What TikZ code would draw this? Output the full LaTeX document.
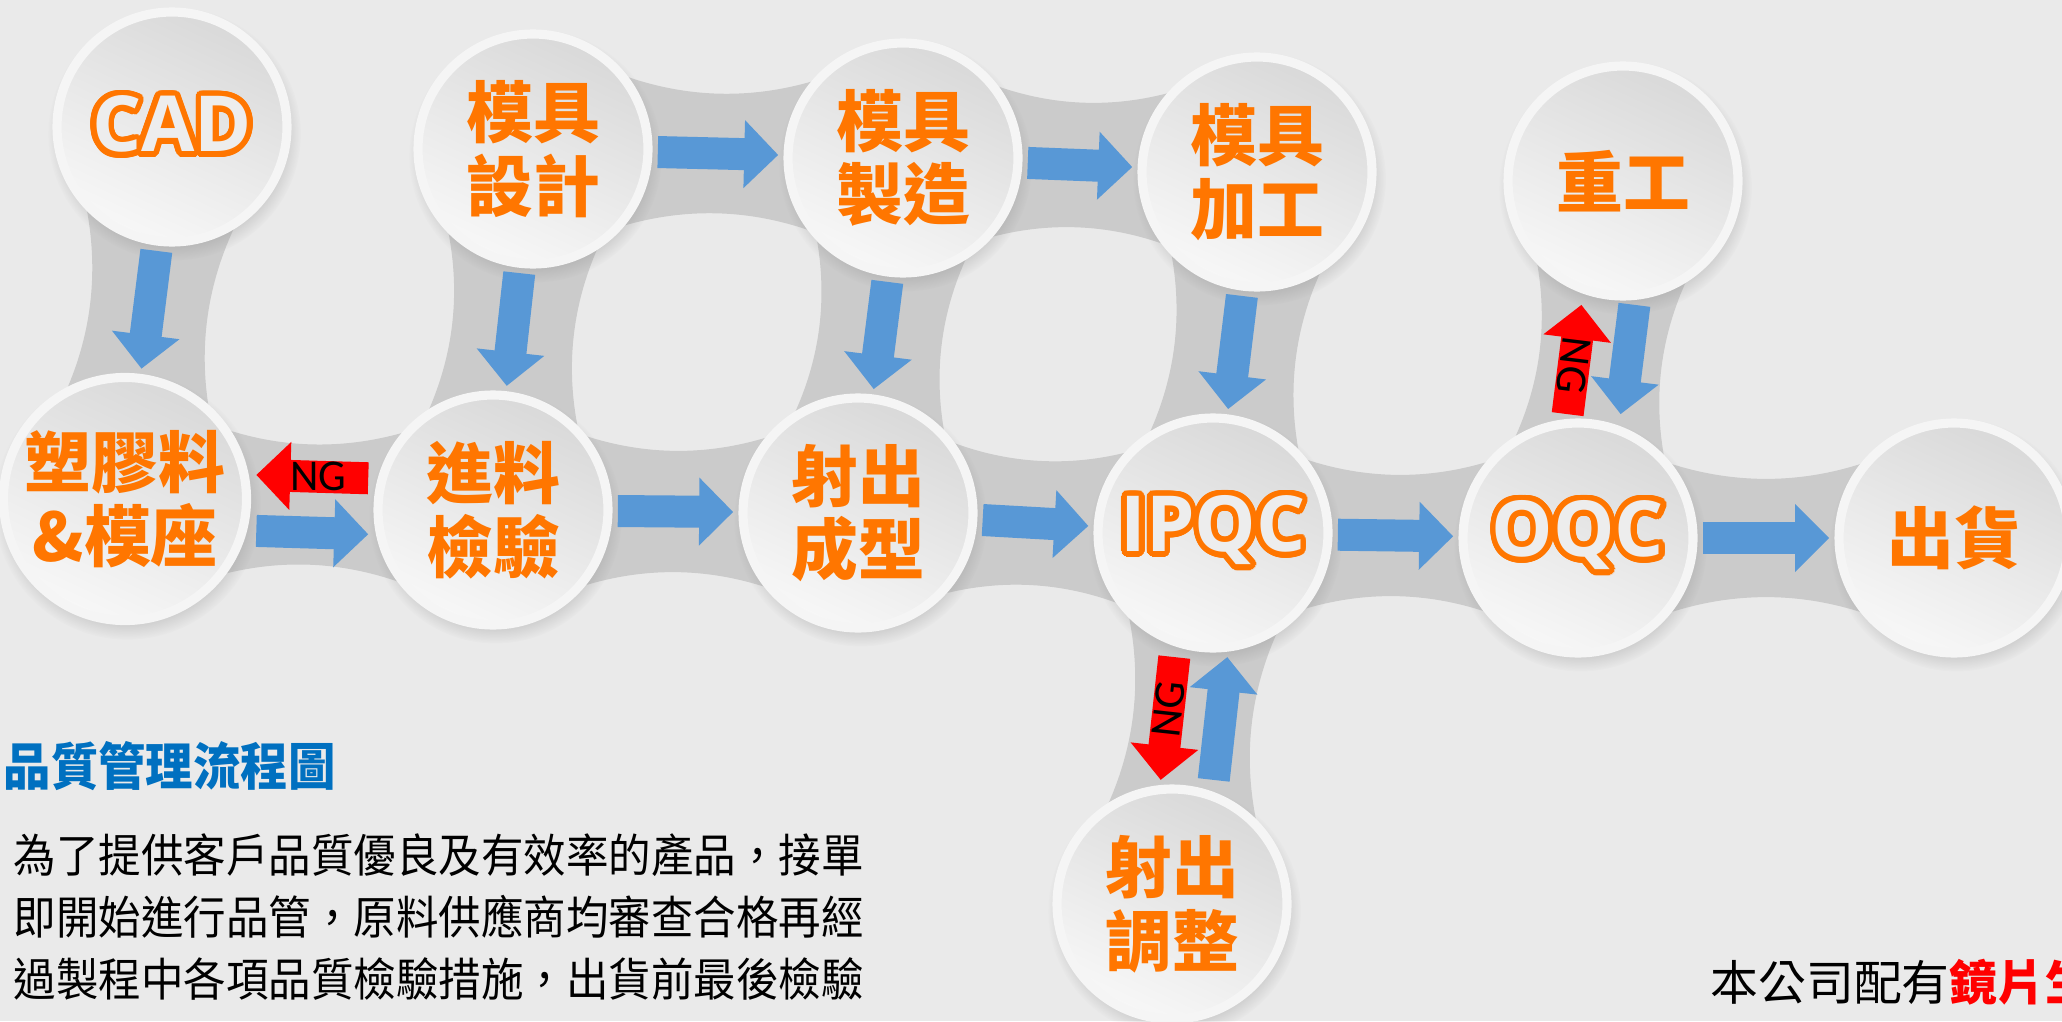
\documentclass[tikz,border=0pt]{standalone}
\usepackage{fontspec}
\usepackage{contour}
\usetikzlibrary{arrows.meta, calc, shadows, backgrounds}

\newfontfamily\cjkfont{Noto Sans CJK TC}
\newfontfamily\cjknarrow{Noto Sans CJK TC}[FakeStretch=0.93]
\newfontfamily\latinfont{Open Sans}
\newfontfamily\ngfont{Carlito}

\definecolor{PaperGray}{RGB}{234,234,234}
\definecolor{ChannelGray}{RGB}{203,203,203}
\definecolor{FlowBlue}{RGB}{88,152,214}
\definecolor{LabelOrange}{RGB}{255,118,0}
\definecolor{TitleBlue}{RGB}{0,112,192}
\definecolor{NGRed}{RGB}{255,0,0}

\contournumber{32}
\contourlength{1.6pt}
\newcommand{\hollow}[1]{{\latinfont\fontsize{22}{22}\selectfont\contour{LabelOrange}{\textcolor{white!93!black}{#1}}}}
\newcommand{\rimradius}{1.19cm}

\begin{document}
\begin{tikzpicture}[
        stage/.style={circle, minimum size=2.3cm, inner sep=0pt, draw=white!96!black, line width=2.6pt,
            top color=black!15, bottom color=white!97!black, shading angle=-25,
            circular drop shadow={shadow xshift=0.6pt, shadow yshift=-1.8pt, opacity=0.3},
            align=center, text=LabelOrange, font=\cjkfont\bfseries\fontsize{19}{21}\selectfont},
        channel/.style={fill=ChannelGray},
        flow/.style={draw=FlowBlue, line width=3.2mm, -{Triangle[width=6.6mm,length=3.4mm]}, shorten >=1.5pt, shorten <=1.5pt},
        ngflow/.style={flow, draw=NGRed},
        ngtext/.style={font=\ngfont\fontsize{12.5}{12.5}\selectfont, text=black, inner sep=0pt},
        title/.style={font=\cjknarrow\bfseries\fontsize{14.5}{14.5}\selectfont, text=TitleBlue, inner sep=0pt},
        para/.style={font=\cjknarrow\fontsize{13}{17.6}\selectfont, align=left, inner sep=0pt},
        note/.style={font=\cjkfont\fontsize{13.6}{13.6}\selectfont, inner sep=0pt}
    ]
    \useasboundingbox (0,0) rectangle (20.62,10.21);

    % stations
    \node[stage] (cad) at (1.72,8.94) {\hollow{CAD}};
    \node[stage] (design) at (5.33,8.72) {模具\\設計};
    \node[stage] (make) at (9.03,8.63) {模具\\製造};
    \node[stage] (machining) at (12.57,8.49) {模具\\加工};
    \node[stage] (rework) at (16.23,8.40) {重工};
    \node[stage] (material) at (1.25,5.22) {塑膠料\\\&模座};
    \node[stage] (incoming) at (4.93,5.11) {進料\\檢驗};
    \node[stage] (molding) at (8.58,5.08) {射出\\成型};
    \node[stage] (ipqc) at (12.13,4.88) {\hollow{IPQC}};
    \node[stage] (oqc) at (15.78,4.83) {\hollow{OQC}};
    \node[stage] (ship) at (19.54,4.83) {出貨};
    \node[stage] (adjust) at (11.72,1.17) {射出\\調整};

    % flow arrows
    \draw[flow] (cad) -- (material);
    \draw[flow] (design) -- (incoming);
    \draw[flow] (make) -- (molding);
    \draw[flow] (machining) -- (ipqc);
    \draw[flow] (design) -- (make);
    \draw[flow] (make) -- (machining);
    \draw[flow] (incoming) -- (molding);
    \draw[flow] (molding) -- (ipqc);
    \draw[flow] (ipqc) -- (oqc);
    \draw[flow] (oqc) -- (ship);
    \draw[flow, transform canvas={yshift=-2.8mm}] (material) -- (incoming);
    \draw[flow, transform canvas={xshift=2.7mm}] (rework) -- (oqc);
    \draw[flow, transform canvas={xshift=2.8mm}] (adjust) -- (ipqc);

    % NG returns
    \draw[ngflow, transform canvas={yshift=2.8mm}] (incoming) -- node[ngtext, pos=0.45] {NG} (material);
    \draw[ngflow, transform canvas={xshift=-2.6mm}] (oqc) -- node[ngtext, pos=0.45, rotate=-97] {NG} (rework);
    \draw[ngflow, transform canvas={xshift=-2.5mm}] (ipqc) -- node[ngtext, pos=0.43, sloped] {NG} (adjust);

    % texts
    \node[title, anchor=west] (title) at (0.03,2.55) {品質管理流程圖};
    \node[para, anchor=north west] (intro) at (0.13,1.88)
        {為了提供客戶品質優良及有效率的產品，接單\\即開始進行品管，原料供應商均審查合格再經\\過製程中各項品質檢驗措施，出貨前最後檢驗};
    \node[note, anchor=base west] (note) at (17.10,0.21) {本公司配有{\bfseries\color{NGRed}鏡片生}};

    \begin{scope}[on background layer]
        \fill[PaperGray] (0,0) rectangle (20.62,10.21);
        \foreach \a/\b in {cad/material, design/incoming, make/molding, machining/ipqc, rework/oqc, ipqc/adjust,
                material/incoming, incoming/molding, molding/ipqc, ipqc/oqc, oqc/ship, design/make, make/machining}
            \fill[channel] ($(\a.center)!\rimradius!90:(\b.center)$) to[bend right=33] ($(\b.center)!\rimradius!-90:(\a.center)$)
                -- ($(\b.center)!\rimradius!90:(\a.center)$) to[bend right=33] ($(\a.center)!\rimradius!-90:(\b.center)$) -- cycle;
    \end{scope}
\end{tikzpicture}
\end{document}
